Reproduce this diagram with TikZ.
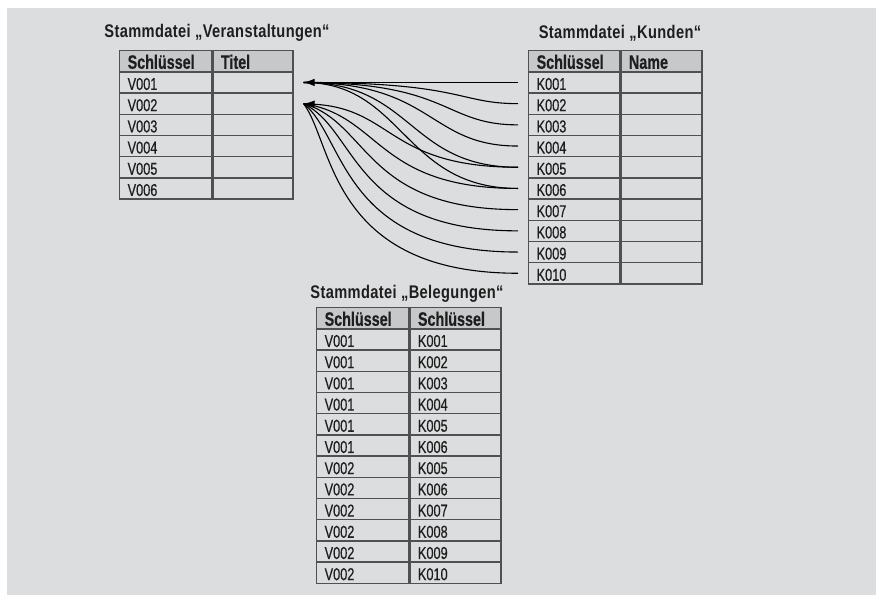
\documentclass[tikz,border=0pt]{standalone}
\usepackage{fontspec}
\usepackage{tikz}
\usetikzlibrary{arrows.meta}
\usetikzlibrary{calc}
\newfontfamily\schmal[FakeStretch=0.74, FakeBold=0.5]{Liberation Sans}
\newfontfamily\schmaltitel[FakeStretch=0.8, LetterSpace=2]{Liberation Sans}
\definecolor{grund}{HTML}{DCDDDF}
\definecolor{kopf}{HTML}{C7C8CA}
\definecolor{rahmen}{HTML}{505050}
\definecolor{schrift}{HTML}{1E1E1E}

\begin{document}
\begin{tikzpicture}[
        x=1pt, y=-1pt, % Pixelmaß, y nach unten
        % --- Stile für Tabellen und Verbindungen ---
        cell/.style={draw=rahmen, line width=1.3pt, fill=grund, text=schrift,
            anchor=north west, text width=#1, inner xsep=8pt, inner ysep=0pt,
            text height=16.5pt, text depth=1.5pt, minimum height=21.2pt,
            align=left, font=\schmal\fontsize{17.2}{19}\selectfont},
        head/.style={cell=#1, fill=kopf, font=\schmal\bfseries\fontsize{19.4}{21}\selectfont},
        titel/.style={anchor=base, text=schrift, inner sep=0pt,
            font=\schmaltitel\bfseries\fontsize{18.3}{20}\selectfont},
        linie/.style={line width=1.1pt, black},
        pfeil/.style={linie, -{Latex[length=11pt, width=7.5pt]}},
    ]
        % --- 1. Hintergrund ---
        \useasboundingbox (0,0) rectangle (876,595);
        \fill[grund] (7,8) rectangle (876,595);

        % --- 2. Stammdatei "Veranstaltungen" ---
        \node[titel] (tv) at (217,37.7) {Stammdatei „Veranstaltungen“};
        \node[head=76pt] (v0) at (119,50) {Schlüssel};
        \node[head=64pt] (vt0) at (v0.north east) {Titel};
        \foreach \i in {1,...,6} {
            \node[cell=76pt] (v\i) at (119,{50+21.2*\i}) {V00\i};
            \node[cell=64pt] (vt\i) at (v\i.north east) {};
        }

        % --- 3. Stammdatei "Kunden" ---
        \node[titel] (tk) at (620,38.3) {Stammdatei „Kunden“};
        \node[head=75pt] (k0) at (528,50) {Schlüssel};
        \node[head=65pt] (kn0) at (k0.north east) {Name};
        \foreach \lab [count=\i] in {K001,K002,K003,K004,K005,K006,K007,K008,K009,K010} {
            \node[cell=75pt] (k\i) at (528,{50+21.2*\i}) {\lab};
            \node[cell=65pt] (kn\i) at (k\i.north east) {};
        }

        % --- 4. Stammdatei "Belegungen" ---
        \node[titel] (tb) at (407,298.3) {Stammdatei „Belegungen“};
        \node[head=76pt] (b0) at (316,307) {Schlüssel};
        \node[head=75pt] (bk0) at (b0.north east) {Schlüssel};
        \foreach \vv/\kk [count=\i] in {V001/K001, V001/K002, V001/K003, V001/K004,
                V001/K005, V001/K006, V002/K005, V002/K006, V002/K007, V002/K008,
                V002/K009, V002/K010} {
            \node[cell=76pt] (b\i) at (316,{307+21.2*\i}) {\vv};
            \node[cell=75pt] (bk\i) at (b\i.north east) {\kk};
        }

        % --- 5. Verweise von den Kunden auf die Veranstaltungen ---
        \coordinate (t1) at ([xshift=10pt]vt1.east);
        \coordinate (t2) at ([xshift=10pt]vt2.east);
        \foreach \i in {1,...,10} {
            \coordinate (e\i) at ([xshift=-10pt]k\i.west);
        }
        % Kunde/Veranstaltung/Hebel rechts/Hebel links (x, y)/Stil
        \foreach \k/\v/\a/\b/\c/\s in {1/1/50/50/0/pfeil, 2/1/60/160/0/linie,
                3/1/75/148/0/linie, 4/1/90/131/0/linie, 5/1/110/110/0/linie,
                6/1/115/100/0/linie, 5/2/130/90/5/pfeil, 6/2/142/78/12/linie,
                7/2/154/66/19/linie, 8/2/166/54/26/linie, 9/2/177/42/33/linie,
                10/2/188/30/40/linie} {
            \draw[\s] (e\k) .. controls +(-\a,0) and +(\b,\c) .. (t\v);
        }
    \end{tikzpicture}
\end{document}
